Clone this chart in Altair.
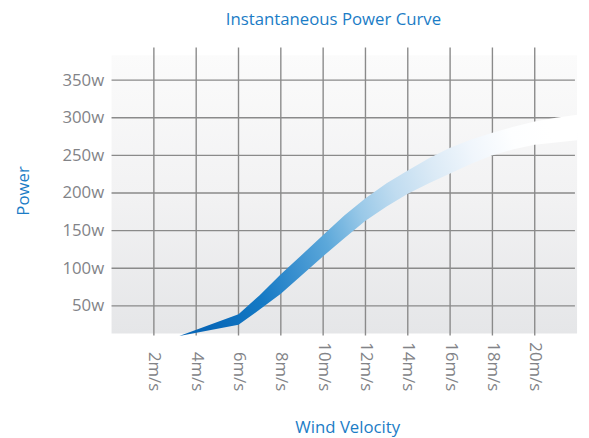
import altair as alt
import pandas as pd

# Wind speed (m/s) and the upper / lower edge of the power band (W)
speed = [3.2, 6, 7, 8, 9, 10, 11, 12, 13, 14, 15, 16, 17, 18, 19, 20, 21, 22]
upper = [10, 39, 64, 92, 118, 144, 170, 193, 213, 230, 246, 260, 271, 280, 288, 295, 300, 304]
lower = [10, 25, 45, 66, 91, 116, 140, 163, 182, 199, 213, 226, 239, 250, 258, 264, 267, 270]

x_ticks = [2, 4, 6, 8, 10, 12, 14, 16, 18, 20]
y_ticks = [50, 100, 150, 200, 250, 300, 350]

band = pd.DataFrame({"speed": speed, "upper": upper, "lower": lower})
xt = pd.DataFrame({"v": x_ticks})
yt = pd.DataFrame({"v": y_ticks})

FONT = "Open Sans"
BLUE = "#1b7cc6"
GRAY = "#828387"
GRID = "#8a8a8a"

X_DOM = [0, 22]
Y_DOM = [10.7, 393.4]

xs = alt.Scale(domain=X_DOM, nice=False, zero=False)
ys = alt.Scale(domain=Y_DOM, nice=False, zero=False)

x_axis = alt.Axis(
    values=x_ticks, labelExpr="datum.value + 'm/s'", grid=False, domain=False,
    ticks=False, tickSize=0, labelAngle=90, labelAlign="right", labelBaseline="middle",
    labelPadding=56, labelFont=FONT, labelFontSize=17, labelColor=GRAY,
    title="Wind Velocity", titleFont=FONT, titleFontSize=17, titleFontWeight="normal",
    titleColor=BLUE, titleX=239, titleY=93, titleAlign="center", titleBaseline="middle",
)
y_axis = alt.Axis(
    values=y_ticks, labelExpr="datum.value + 'w'", grid=False, domain=False,
    ticks=False, tickSize=0, labelPadding=8, labelFont=FONT, labelFontSize=17,
    labelColor=GRAY, labelAlign="right", labelBaseline="middle",
    title="Power", titleFont=FONT, titleFontSize=17, titleFontWeight="normal",
    titleColor=BLUE, titleAngle=270, titleX=-89, titleY=145, titleAlign="center",
    titleBaseline="middle",
)

bg = alt.Chart(alt.Data(values=[{}])).mark_rect(
    color=alt.Gradient(
        gradient="linear",
        stops=[alt.GradientStop(color="#fbfbfb", offset=0),
               alt.GradientStop(color="#f2f2f3", offset=0.5),
               alt.GradientStop(color="#e5e6e8", offset=1)],
        x1=0, x2=0, y1=0, y2=1,
    )
).encode(
    x=alt.datum(0, scale=xs, axis=x_axis, type="quantitative"),
    x2=alt.datum(22),
    y=alt.datum(13.4, scale=ys, axis=y_axis, type="quantitative"),
    y2=alt.datum(383),
)

vrules = alt.Chart(xt).mark_rule(color=GRID, strokeWidth=1.4).encode(
    x=alt.X("v:Q", scale=xs, axis=x_axis),
    y=alt.datum(Y_DOM[0], scale=ys, type="quantitative"),
    y2=alt.datum(Y_DOM[1]),
)

hrules = alt.Chart(yt).mark_rule(color=GRID, strokeWidth=1.4).encode(
    y=alt.Y("v:Q", scale=ys, axis=y_axis),
    x=alt.datum(0, scale=xs, type="quantitative"),
    x2=alt.datum(21.9),
)

area = alt.Chart(band).mark_area(
    interpolate="linear",
    color=alt.Gradient(
        gradient="linear",
        stops=[alt.GradientStop(color="#0867b7", offset=0),
               alt.GradientStop(color="#1479c4", offset=0.15),
               alt.GradientStop(color="#3a90cf", offset=0.26),
               alt.GradientStop(color="#5ca8da", offset=0.36),
               alt.GradientStop(color="#9ac9e8", offset=0.47),
               alt.GradientStop(color="#c0dcf0", offset=0.57),
               alt.GradientStop(color="#dbeaf6", offset=0.68),
               alt.GradientStop(color="#f0f6fc", offset=0.79),
               alt.GradientStop(color="#fdfeff", offset=0.9),
               alt.GradientStop(color="#ffffff", offset=1)],
        x1=0, x2=1, y1=0.6, y2=0.4,
    ),
).encode(
    x=alt.X("speed:Q", scale=xs, axis=x_axis),
    y=alt.Y("upper:Q", scale=ys, axis=y_axis),
    y2="lower:Q",
)

chart = alt.layer(bg, vrules, hrules, area).properties(
    width=472,
    height=292,
    autosize=alt.AutoSizeParams(type="none"),
    padding={"left": 105, "top": 37, "right": 4, "bottom": 100},
    title=alt.TitleParams(
        "Instantaneous Power Curve", font=FONT, fontSize=17, fontWeight="normal",
        color=BLUE, anchor="middle", frame="group", dx=-11, dy=18, offset=23,
        baseline="alphabetic",
    ),
).configure_view(stroke=None)

chart.save("out.html", embed_options={"renderer": "svg", "actions": False})
